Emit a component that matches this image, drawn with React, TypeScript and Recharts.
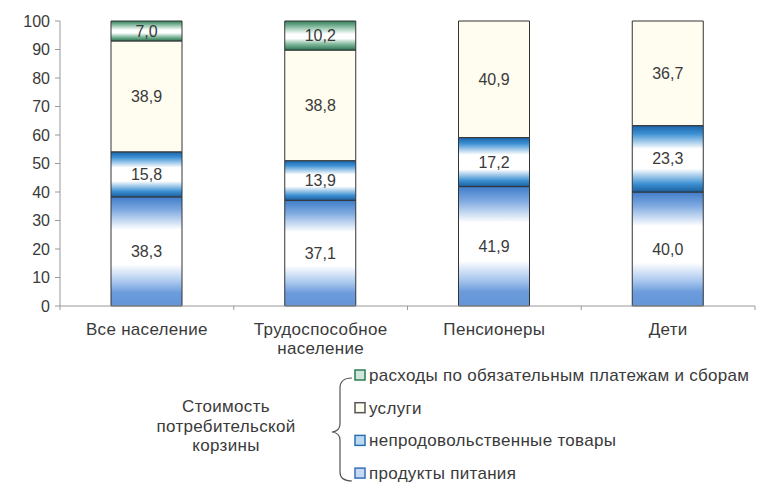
import React from 'react';
import { BarChart, Bar, XAxis, YAxis, LabelList } from 'recharts';

// Структура стоимости потребительской корзины, %
const categories = ['Все население', 'Трудоспособное население', 'Пенсионеры', 'Дети'];
const food = [38.3, 37.1, 41.9, 40.0];
const nonFood = [15.8, 13.9, 17.2, 23.3];
const services = [38.9, 38.8, 40.9, 36.7];
const payments = [7.0, 10.2, 0, 0];
const yTicks = [0, 10, 20, 30, 40, 50, 60, 70, 80, 90, 100];

const seriesNames = {
  payments: 'расходы по обязательным платежам и сборам',
  services: 'услуги',
  nonFood: 'непродовольственные товары',
  food: 'продукты питания',
};

const data = categories.map((name, i) => ({
  name,
  food: food[i],
  nonFood: nonFood[i],
  services: services[i],
  payments: payments[i],
}));

const FONT = '"Liberation Sans", Arial, sans-serif';
const TEXT = '#3a3a3a';

const fmt = (v: any) => (v ? Number(v).toFixed(1).replace('.', ',') : '');

const CategoryTick = (props: any) => {
  const { x, y, payload } = props;
  const half = payload && payload.offset ? payload.offset : 87;
  const words: string[] = String(payload.value).length > 15 ? String(payload.value).split(' ') : [payload.value];
  return (
    <g>
      <line x1={x + half} y1={y - 8} x2={x + half} y2={y - 4} stroke="#999" />
      {payload.index === 0 && <line x1={x - half} y1={y - 8} x2={x - half} y2={y - 4} stroke="#999" />}
      <text x={x} y={y} textAnchor="middle" fontFamily={FONT} fontSize={17} letterSpacing={0.3} fill={TEXT}>
        {words.map((w, i) => (
          <tspan key={i} x={x} dy={i === 0 ? 21 : 19}>{w}</tspan>
        ))}
      </text>
    </g>
  );
};

const labelProps = {
  formatter: fmt,
  fill: TEXT,
  fontSize: 16,
  fontFamily: FONT,
  position: 'center' as const,
};

const legendRows = [
  { key: 'payments', fill: '#cfe6da', stroke: '#2f7a55' },
  { key: 'services', fill: '#fffdf0', stroke: '#555' },
  { key: 'nonFood', fill: '#bcd9f2', stroke: '#2a6fb0' },
  { key: 'food', fill: '#c5d9f3', stroke: '#3b6fb8' },
];

export default function App() {
  return (
    <div style={{ position: 'absolute', left: 0, top: 0, width: 764, height: 483, background: '#fff' }}>
      <BarChart
        width={764}
        height={483}
        data={data}
        margin={{ top: 21, right: 9, bottom: 137, left: 0 }}
        barSize={71}
      >
        <defs>
          <linearGradient id="gFood" x1="0" y1="0" x2="0" y2="1">
            <stop offset="0" stopColor="#3f7cc9" />
            <stop offset="0.12" stopColor="#7ea9e0" />
            <stop offset="0.3" stopColor="#ffffff" />
            <stop offset="0.62" stopColor="#ffffff" />
            <stop offset="0.78" stopColor="#a9c7ee" />
            <stop offset="0.88" stopColor="#6b9bdb" />
            <stop offset="1" stopColor="#6495d6" />
          </linearGradient>
          <linearGradient id="gNonFood" x1="0" y1="0" x2="0" y2="1">
            <stop offset="0" stopColor="#1c64a8" />
            <stop offset="0.12" stopColor="#3a8fd2" />
            <stop offset="0.35" stopColor="#ffffff" />
            <stop offset="0.65" stopColor="#ffffff" />
            <stop offset="0.88" stopColor="#3a8fd2" />
            <stop offset="1" stopColor="#1c5f9e" />
          </linearGradient>
          <linearGradient id="gPay" x1="0" y1="0" x2="0" y2="1">
            <stop offset="0" stopColor="#2f7d58" />
            <stop offset="0.25" stopColor="#9fcbb5" />
            <stop offset="0.45" stopColor="#ffffff" />
            <stop offset="0.6" stopColor="#ffffff" />
            <stop offset="0.8" stopColor="#7fb89a" />
            <stop offset="1" stopColor="#2a7350" />
          </linearGradient>
        </defs>
        <XAxis
          dataKey="name"
          height={40}
          stroke="#999"
          tickLine={false}
          interval={0}
          tick={<CategoryTick />}
        />
        <YAxis
          width={60}
          domain={[0, 100]}
          ticks={yTicks}
          stroke="#999"
          tickSize={5}
          tickMargin={5}
          tick={{ fill: TEXT, fontSize: 16, fontFamily: FONT }}
        />
        <Bar dataKey="food" name={seriesNames.food} stackId="a" fill="url(#gFood)" stroke="#333" strokeWidth={1} isAnimationActive={false}>
          <LabelList dataKey="food" {...labelProps} />
        </Bar>
        <Bar dataKey="nonFood" name={seriesNames.nonFood} stackId="a" fill="url(#gNonFood)" stroke="#333" strokeWidth={1} isAnimationActive={false}>
          <LabelList dataKey="nonFood" {...labelProps} />
        </Bar>
        <Bar dataKey="services" name={seriesNames.services} stackId="a" fill="#fffdf0" stroke="#333" strokeWidth={1} isAnimationActive={false}>
          <LabelList dataKey="services" {...labelProps} />
        </Bar>
        <Bar dataKey="payments" name={seriesNames.payments} stackId="a" fill="url(#gPay)" stroke="#333" strokeWidth={1} isAnimationActive={false}>
          <LabelList dataKey="payments" {...labelProps} />
        </Bar>
      </BarChart>
      <svg
        width={764}
        height={483}
        style={{ position: 'absolute', left: 0, top: 0, pointerEvents: 'none' }}
        fontFamily={FONT}
      >
        <text x={226} y={412} textAnchor="middle" fontSize={17} letterSpacing={0.3} fill={TEXT}>
          <tspan x={226}>Стоимость</tspan>
          <tspan x={226} dy={19.5}>потребительской</tspan>
          <tspan x={226} dy={19.5}>корзины</tspan>
        </text>
        <path
          d="M 352 378 Q 340 378 340 388 L 340 424 Q 340 431 332 432 Q 340 433 340 440 L 340 472 Q 340 481 352 481"
          fill="none"
          stroke="#555"
          strokeWidth={1.2}
        />
        {legendRows.map((r, i) => (
          <g key={r.key}>
            <rect x={355} y={370 + i * 32.7} width={10} height={10} fill={r.fill} stroke={r.stroke} strokeWidth={1.5} />
            <text x={369} y={381 + i * 32.7} fontSize={17} letterSpacing={0.3} fill={TEXT}>
              {seriesNames[r.key as keyof typeof seriesNames]}
            </text>
          </g>
        ))}
      </svg>
    </div>
  );
}
